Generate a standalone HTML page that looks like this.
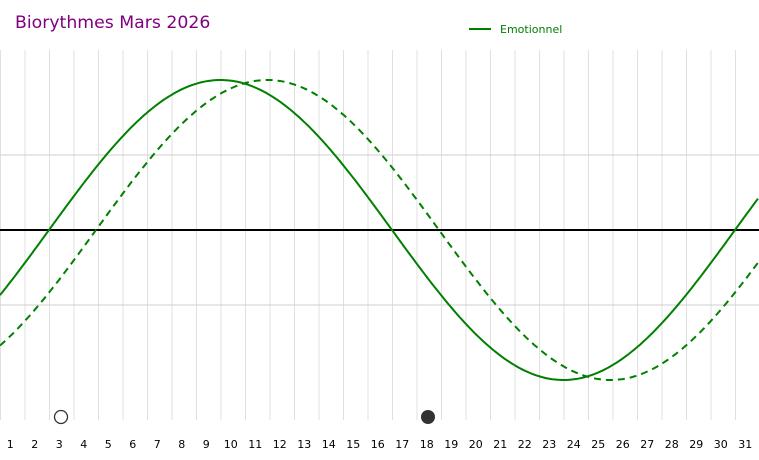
<!DOCTYPE html>
<html><head><meta charset="utf-8"><style>
html,body{margin:0;padding:0;background:#fff;}
svg{display:block;font-family:"DejaVu Sans","Liberation Sans",sans-serif;}
</style></head><body>
<svg id="s" width="759" height="460" xmlns="http://www.w3.org/2000/svg">
<rect width="759" height="460" fill="#fff"/>
<g id="vg" stroke="#e0e0e0" stroke-width="1"></g>
<line x1="0" y1="155" x2="759" y2="155" stroke="#cfcfcf" stroke-width="1"/>
<line x1="0" y1="305" x2="759" y2="305" stroke="#cfcfcf" stroke-width="1"/>
<line x1="0" y1="230" x2="759" y2="230" stroke="#000" stroke-width="2"/>
<path id="p1" fill="none" stroke="#008000" stroke-width="2"/>
<path id="p2" fill="none" stroke="#008000" stroke-width="2" stroke-dasharray="7,5"/>
<circle cx="61" cy="417" r="6.5" fill="#fff" stroke="#333" stroke-width="1.3"/>
<circle cx="428" cy="417" r="7" fill="#333"/>
<text x="15" y="28" font-size="17.3" fill="#800080">Biorythmes Mars 2026</text>
<line x1="469" y1="29" x2="491" y2="29" stroke="#008000" stroke-width="2"/>
<text x="500" y="33" font-size="11" fill="#008000">Emotionnel</text>
<g id="lb" font-size="11" fill="#000" text-anchor="middle"></g>
</svg>
<script>
var ns="http://www.w3.org/2000/svg";
var vg=document.getElementById('vg'),lb=document.getElementById('lb');
for(var k=0;k<=31;k++){var x=24.5*k+0.5;var l=document.createElementNS(ns,'line');l.setAttribute('x1',x);l.setAttribute('x2',x);l.setAttribute('y1',50);l.setAttribute('y2',420);vg.appendChild(l);}
for(var d=1;d<=31;d++){var t=document.createElementNS(ns,'text');t.setAttribute('x',24.5*(d-0.5)-2);t.setAttribute('y',448);t.textContent=d;lb.appendChild(t);}
function path(sh){var s='';for(var x=0;x<=759;x+=2){var y=230-150*Math.sin(2*Math.PI*(x-49-sh)/686);s+=(x?'L':'M')+x+' '+y.toFixed(1);}return s;}
document.getElementById('p1').setAttribute('d',path(0));
document.getElementById('p2').setAttribute('d',path(47));
</script>
</body></html>
